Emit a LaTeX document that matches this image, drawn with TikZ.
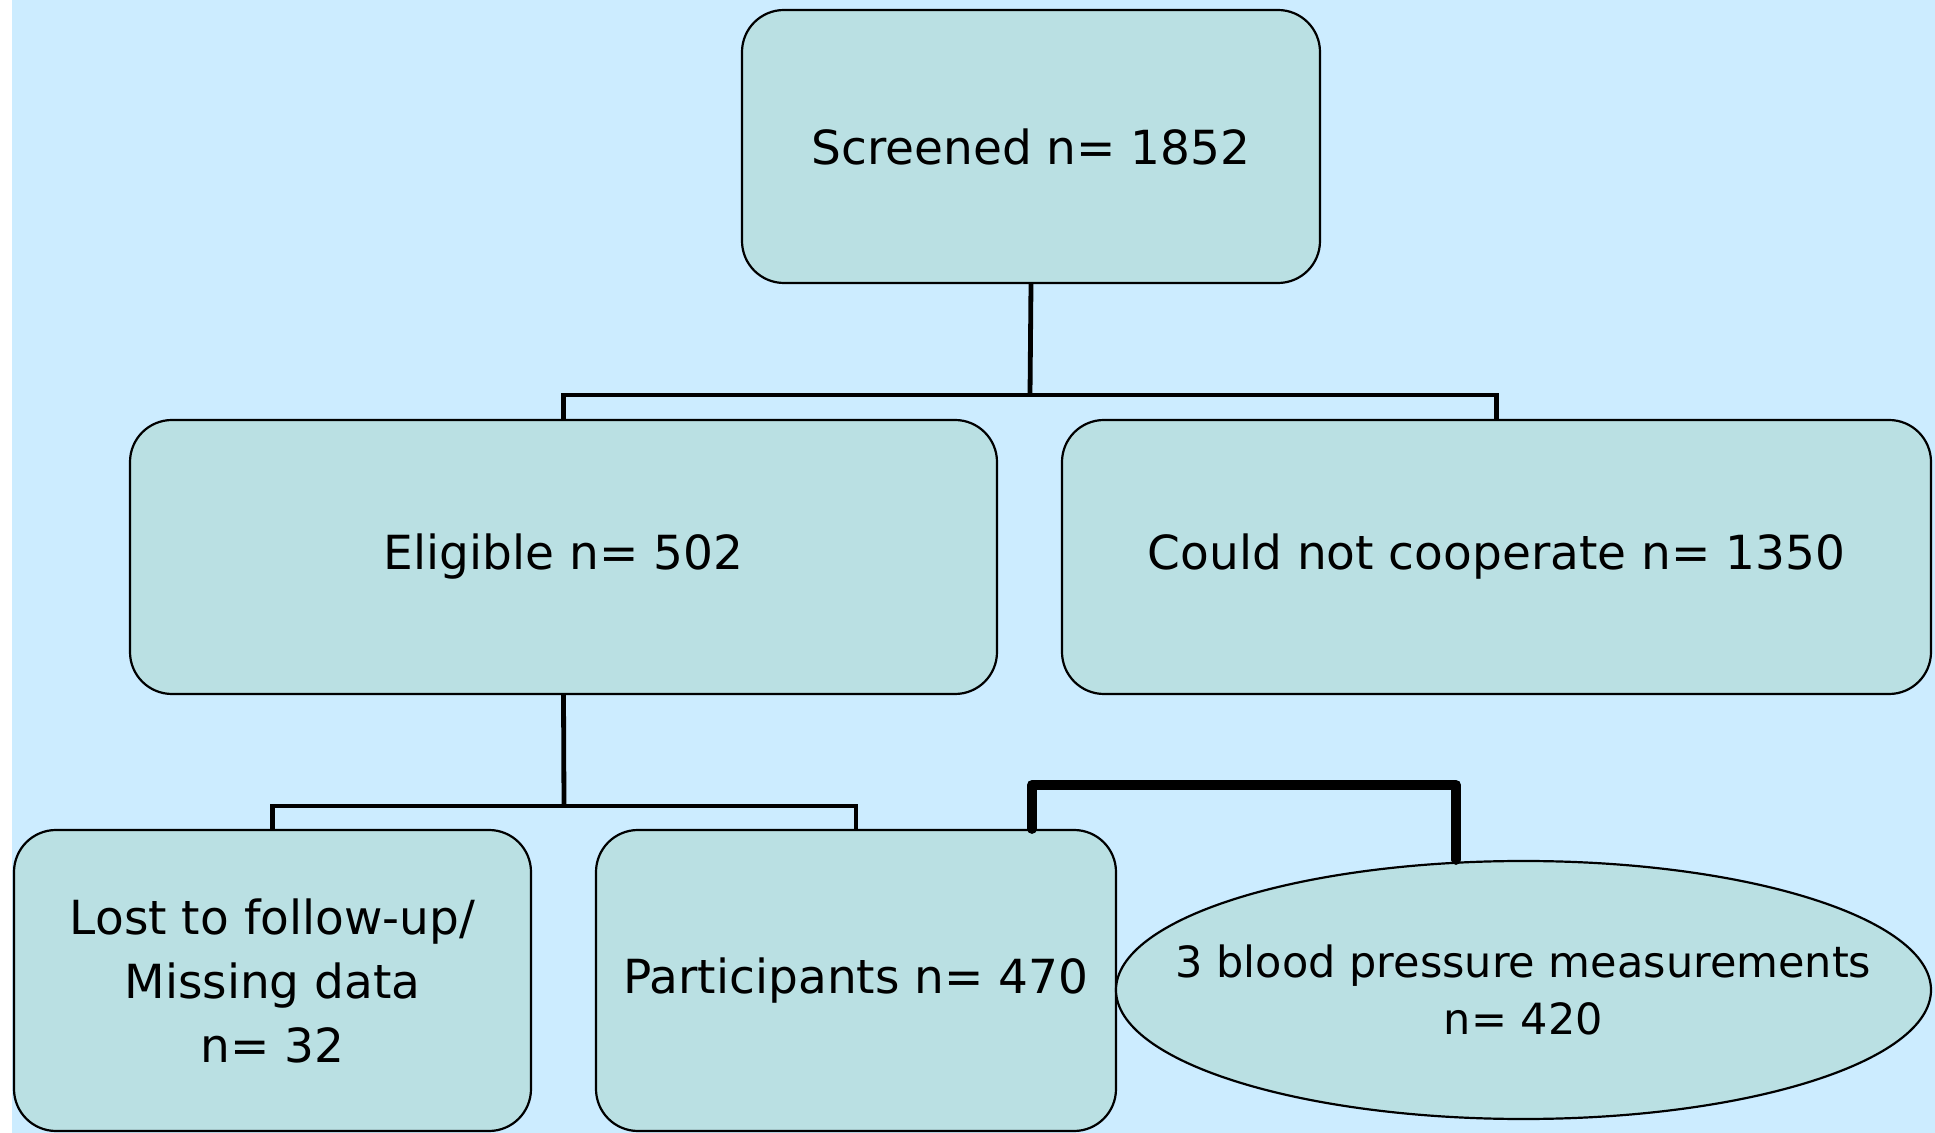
\documentclass[tikz,border=0pt]{standalone}
\usepackage{fontspec}
\setmainfont{DejaVu Sans}
\usetikzlibrary{shapes.geometric}
\definecolor{bgblue}{RGB}{204,236,255}
\definecolor{boxfill}{RGB}{186,224,227}
\tikzset{
  stagebox/.style={draw=black, line width=1.1pt, fill=boxfill, rounded corners=21pt,
    inner sep=0pt, align=center, font=\fontsize{23.5}{32}\selectfont},
  ovalbox/.style={draw=black, line width=1.1pt, fill=boxfill, ellipse, inner sep=0pt},
  ovaltext/.style={inner sep=0pt, align=center, font=\fontsize{21.5}{28.5}\selectfont},
  conn/.style={draw=black, line width=2.4pt},
  boldconn/.style={draw=black, line width=5pt, line cap=round, line join=round},
}
\begin{document}
\begin{tikzpicture}[x=0.5pt, y=-0.5pt]
\useasboundingbox (0,0) rectangle (1935,1133);
\fill[white] (0,0) rectangle (1935,1133);
\fill[bgblue] (12,0) rectangle (1935,1133);

\node[stagebox, minimum width=289pt, minimum height=136.5pt] (scr) at (1031,146.5) {Screened n= 1852};
\node[stagebox, minimum width=433.5pt, minimum height=137pt] (elig) at (563.5,557) {Eligible n= 502};
\node[stagebox, minimum width=434.5pt, minimum height=137pt] (coop) at (1496.5,557) {Could not cooperate n= 1350};
\node[stagebox, minimum width=258.5pt, minimum height=150.5pt] (lost) at (272.5,980.5) {Lost to follow-up/\\Missing data\\n= 32};
\node[stagebox, minimum width=260pt, minimum height=150.5pt] (part) at (856,980.5) {Participants n= 470};
\node[ovalbox, minimum width=407.5pt, minimum height=129pt] (ell) at (1523.5,990) {};
\node[ovaltext] (elltext) at (ell.center) {3 blood pressure measurements\\n= 420};

\coordinate (j1) at (1030,395);
\coordinate (j2) at (564,806);
\coordinate (t1) at (1032,785);
\coordinate (t2) at (1456,785);

\draw[conn] (scr.south) -- (j1);
\draw[conn] (elig.north) |- (j1) -| (coop.north);
\draw[conn] (elig.south) -- (j2);
\draw[conn] (lost.north) |- (j2) -| (part.north);
\draw[boldconn] (t1 |- part.north) -- (t1) -- (t2) -- (t2 |- ell.north);
\end{tikzpicture}
\end{document}
